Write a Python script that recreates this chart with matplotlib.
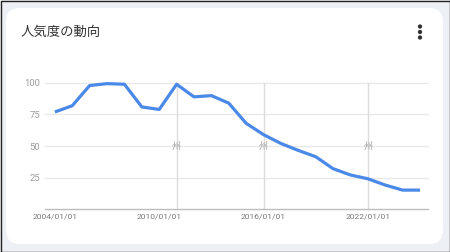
import matplotlib
matplotlib.use("Agg")
import matplotlib.pyplot as plt
from matplotlib.patches import FancyBboxPatch, Rectangle, Circle

plt.rcParams['font.family'] = ['Roboto', 'Noto Sans CJK JP', 'DejaVu Sans']

title = "人気度の動向"
years = list(range(2004, 2026))
values = [77, 82, 98, 99.5, 99, 81, 79, 99, 89, 90, 84, 68, 59, 52, 46.5, 41.5, 32, 27, 24, 19, 15, 15]
tick_years = [2004, 2010, 2016, 2022]
tick_labels = ["2004/01/01", "2010/01/01", "2016/01/01", "2022/01/01"]
y_ticks = [25, 50, 75, 100]
event_years = [2011, 2016, 2022]
event_mark = "州"

W, H = 450, 252
fig = plt.figure(figsize=(W / 100, H / 100), dpi=100)
fig.patch.set_facecolor('#edf0f5')

# background overlay in pixel coords
bg = fig.add_axes([0, 0, 1, 1], zorder=0)
bg.set_xlim(0, W)
bg.set_ylim(H, 0)
bg.axis('off')
card = FancyBboxPatch((6 + 14, 8 + 14), 437 - 28, 236 - 28,
                      boxstyle="round,pad=14", facecolor='white', edgecolor='none')
bg.add_patch(card)
bg.add_patch(Rectangle((0.5, 0.5), W - 1, H - 1, facecolor='none', edgecolor='#222222', lw=1))
bg.text(21, 32, title, fontsize=9.6, color='#333333', va='center', ha='left',
        family=['Noto Sans CJK JP', 'DejaVu Sans'])
for yy in (26.5, 32, 37.5):
    bg.add_patch(Circle((420, yy), 1.45, color='#333333'))

# plot axes
ax = fig.add_axes([45 / W, (H - 209) / H, (428 - 45) / W, (209 - 83) / H], zorder=1)
ax.set_facecolor('none')
ax.set_xlim(2003.43, 2025.46)
ax.set_ylim(0, 100)
for s in ['top', 'right', 'left']:
    ax.spines[s].set_visible(False)
ax.spines['bottom'].set_color('#bdbdbd')
ax.spines['bottom'].set_linewidth(1)

for yv in y_ticks:
    ax.axhline(yv, color='#e9e9e9', lw=1, zorder=1, clip_on=False)
for ev in event_years:
    ax.plot([ev, ev], [0, 100], color='#dcdcdc', lw=1, zorder=2, clip_on=False)
    ax.text(ev, 50, event_mark, fontsize=6.5, color='#a0a0a0', ha='center', va='center',
            family=['Noto Sans CJK JP', 'DejaVu Sans'], zorder=3)

ax.plot(years, values, color='#4a89e8', lw=2.3, solid_joinstyle='round',
        solid_capstyle='butt', zorder=4, clip_on=False)

ax.set_yticks(y_ticks)
ax.set_yticklabels([str(v) for v in y_ticks])
ax.set_xticks(tick_years)
ax.set_xticklabels(tick_labels)
ax.tick_params(axis='y', length=0, pad=3.5, labelsize=6.8, labelcolor='#9e9e9e')
ax.tick_params(axis='x', length=0, pad=3, labelsize=6.1, labelcolor='#7a7a7a')

fig.savefig('out.png', dpi=100, facecolor=fig.get_facecolor())
